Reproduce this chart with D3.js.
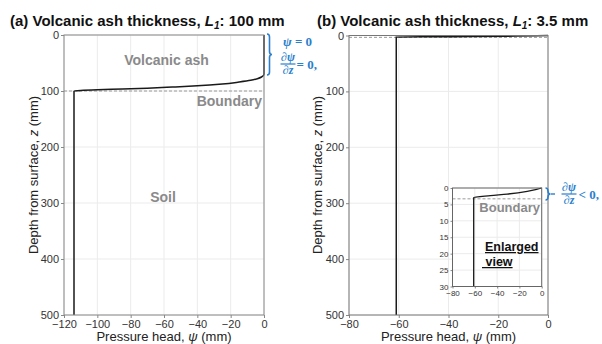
<!DOCTYPE html>
<html><head><meta charset="utf-8">
<script src="https://cdn.jsdelivr.net/npm/d3@7"></script>
<style>
body{margin:0;background:#fff;}
svg{display:block;font-family:"Liberation Sans",Arial,sans-serif;}
</style></head><body>
<svg id="c" width="602" height="344"></svg>
<script>
// ---- data ----
const titlesA = ["(a) Volcanic ash thickness, ", "L", "1", ": 100 mm"];
const titlesB = ["(b) Volcanic ash thickness, ", "L", "1", ": 3.5 mm"];
const xTicksA = [-120, -100, -80, -60, -40, -20, 0];
const xTicksB = [-80, -60, -40, -20, 0];
const yTicks = [0, 100, 200, 300, 400, 500];
const yTicksInset = [0, 5, 10, 15, 20, 25, 30];
const xTicksInset = [-80, -60, -40, -20, 0];
// panel (a) profile
const psiA = [-114, -114, -110, -100, -85, -70, -55, -40, -25, -15, -8, -4, -1.5, 0, 0];
const zA   = [500, 100, 99, 97.8, 96.5, 95, 93, 90.8, 87.5, 84, 81, 78, 75, 70, 0];
const boundaryA = 100;
// panel (b) profile
const psiB = [-61, -61, -46, -31, -13, -4.5, 0];
const zB   = [500, 2.9, 2.3, 1.85, 1.05, 0.45, 0];
const boundaryB = 3.3;

const svg = d3.select("#c");
const gray = "#8a8a8a", blue = "#2b7fcc";

function panel(o){
  const x = d3.scaleLinear().domain(o.xd).range([o.x0, o.x1]);
  const y = d3.scaleLinear().domain(o.yd).range([o.y0, o.y1]);
  const g = svg.append("g");
  if (o.bg) g.append("rect").attr("x",o.x0).attr("y",o.y0).attr("width",o.x1-o.x0).attr("height",o.y1-o.y0).attr("fill","#fff");
  g.selectAll(".gx").data(o.xt).join("line").attr("x1",d=>x(d)).attr("x2",d=>x(d)).attr("y1",o.y0).attr("y2",o.y1).attr("stroke","#ebebeb").attr("stroke-width",1);
  g.selectAll(".gy").data(o.yt).join("line").attr("y1",d=>y(d)).attr("y2",d=>y(d)).attr("x1",o.x0).attr("x2",o.x1).attr("stroke","#ebebeb").attr("stroke-width",1);
  g.append("line").attr("x1",o.x0).attr("x2",o.x1).attr("y1",y(o.bd)).attr("y2",y(o.bd)).attr("stroke","#9a9a9a").attr("stroke-width",1).attr("stroke-dasharray","3,2");
  const pts = o.psi.map((p,i)=>[p,o.z[i]]);
  g.append("clipPath").attr("id","cl"+o.id).append("rect").attr("x",o.x0-2).attr("y",o.y0-2).attr("width",o.x1-o.x0+4).attr("height",o.y1-o.y0+2);
  g.append("path").attr("clip-path","url(#cl"+o.id+")").attr("d", d3.line().x(d=>x(d[0])).y(d=>y(Math.min(d[1],o.yd[1]+1))).curve(d3.curveMonotoneY)(pts))
    .attr("fill","none").attr("stroke","#1a1a1a").attr("stroke-width",o.lw);
  const ax = g.append("g").attr("transform",`translate(0,${o.y1})`).call(d3.axisBottom(x).tickValues(o.xt).tickSize(o.ts).tickPadding(o.tp).tickFormat(d=>d<0?"\u2212"+(-d):d));
  const ay = g.append("g").attr("transform",`translate(${o.x0},0)`).call(d3.axisLeft(y).tickValues(o.yt).tickSize(o.ts).tickPadding(o.tp));
  [ax,ay].forEach(a=>{a.select(".domain").remove();a.selectAll("line").attr("stroke","#888");a.selectAll("text").attr("fill","#333").attr("font-size",o.fs).attr("font-family","Liberation Sans, Arial, sans-serif");});
  g.append("rect").attr("x",o.x0).attr("y",o.y0).attr("width",o.x1-o.x0).attr("height",o.y1-o.y0).attr("fill","none").attr("stroke",o.spine).attr("stroke-width",1);
  return {x,y,g};
}

function title(parts, x, yb){
  const t = svg.append("text").attr("x",x).attr("y",yb).attr("font-size",15).attr("font-weight","bold").attr("fill","#111");
  t.append("tspan").text(parts[0]);
  t.append("tspan").attr("font-style","italic").text(parts[1]);
  t.append("tspan").attr("font-style","italic").attr("font-size",10).attr("dy",3).text(parts[2]);
  t.append("tspan").attr("dy",-3).text(parts[3]);
}

const A = panel({id:"a",x0:64,x1:264,y0:35,y1:315,xd:[-120,0],yd:[0,500],xt:xTicksA,yt:yTicks,psi:psiA,z:zA,bd:boundaryA,lw:1.5,ts:3,tp:2,fs:11,spine:"#888"});
const B = panel({id:"b",x0:349,x1:548,y0:35.5,y1:315,xd:[-80,0],yd:[0,500],xt:xTicksB,yt:yTicks,psi:psiB,z:zB,bd:boundaryB,lw:1.5,ts:3,tp:2,fs:11,spine:"#777"});
const I = panel({id:"i",x0:452.5,x1:541.7,y0:188,y1:286.5,xd:[-80,0],yd:[0,30],xt:xTicksInset,yt:yTicksInset,psi:psiB,z:zB,bd:boundaryB,lw:1.3,ts:2,tp:2,fs:8,spine:"#666",bg:true});

title(titlesA, 10, 26);
title(titlesB, 317, 26);

function xlab(cx){ const t=svg.append("text").attr("x",cx).attr("y",341).attr("text-anchor","middle").attr("font-size",13).attr("fill","#222");
  t.append("tspan").text("Pressure head, "); t.append("tspan").attr("font-style","italic").text("ψ"); t.append("tspan").text(" (mm)"); }
function ylab(cx){ const t=svg.append("text").attr("transform",`translate(${cx},175) rotate(-90)`).attr("text-anchor","middle").attr("font-size",13).attr("fill","#222");
  t.append("tspan").text("Depth from surface, "); t.append("tspan").attr("font-style","italic").text("z"); t.append("tspan").text(" (mm)"); }
xlab(164); xlab(448.5); ylab(38); ylab(322);

function lab(x,y,txt,size,anchor,fill){ return svg.append("text").attr("x",x).attr("y",y).attr("text-anchor",anchor).attr("font-size",size).attr("font-weight","bold").attr("fill",fill).text(txt); }
lab(166.5,65,"Volcanic ash",14,"middle",gray);
lab(262,106,"Boundary",14,"end",gray);
lab(163,202,"Soil",14,"middle",gray);
lab(540,212,"Boundary",13,"end",gray);
lab(485,251,"Enlarged",12.5,"start","#111").attr("text-decoration","underline");
lab(482,266,"\u00a0view",12.5,"start","#111").attr("text-decoration","underline");

function brace(x,y0,y1,w){
  const ym=(y0+y1)/2, r=Math.min(3,(y1-y0)/4);
  const p=`M${x},${y0} Q${x+w},${y0} ${x+w},${y0+r} L${x+w},${ym-r} Q${x+w},${ym} ${x+2*w},${ym} Q${x+w},${ym} ${x+w},${ym+r} L${x+w},${y1-r} Q${x+w},${y1} ${x},${y1}`;
  svg.append("path").attr("d",p).attr("fill","none").attr("stroke",blue).attr("stroke-width",1.6);
}
brace(267,34,75,2.5);
brace(545.5,188,200,2.5);
svg.append("line").attr("x1",551).attr("x2",555).attr("y1",194).attr("y2",194).attr("stroke",blue).attr("stroke-width",1.4);

const mf = "Liberation Serif, Times New Roman, serif";
function mtext(x,y,parts,anchor,size){
  const t=svg.append("text").attr("x",x).attr("y",y).attr("font-family",mf).attr("font-weight","bold").attr("font-size",size||13).attr("fill",blue).attr("text-anchor",anchor||"start");
  parts.forEach(p=>t.append("tspan").attr("font-style",p[1]?"italic":"normal").text(p[0]));
  return t;
}
function frac(cx,ybar,rest,restx){
  mtext(cx,ybar-3,[["∂",1],["ψ",1]],"middle",12);
  svg.append("line").attr("x1",cx-7.5).attr("x2",cx+7.5).attr("y1",ybar).attr("y2",ybar).attr("stroke",blue).attr("stroke-width",1.2);
  mtext(cx,ybar+10,[["∂",1],["z",1]],"middle",12);
  mtext(restx,ybar+4.5,[[rest,0]],"start",13);
}
mtext(283,46,[["ψ",1],[" = 0",0]],"start",13);
frac(288,64," = 0,",296.5);
frac(569,194," < 0,",578.5);
</script>
</body></html>
